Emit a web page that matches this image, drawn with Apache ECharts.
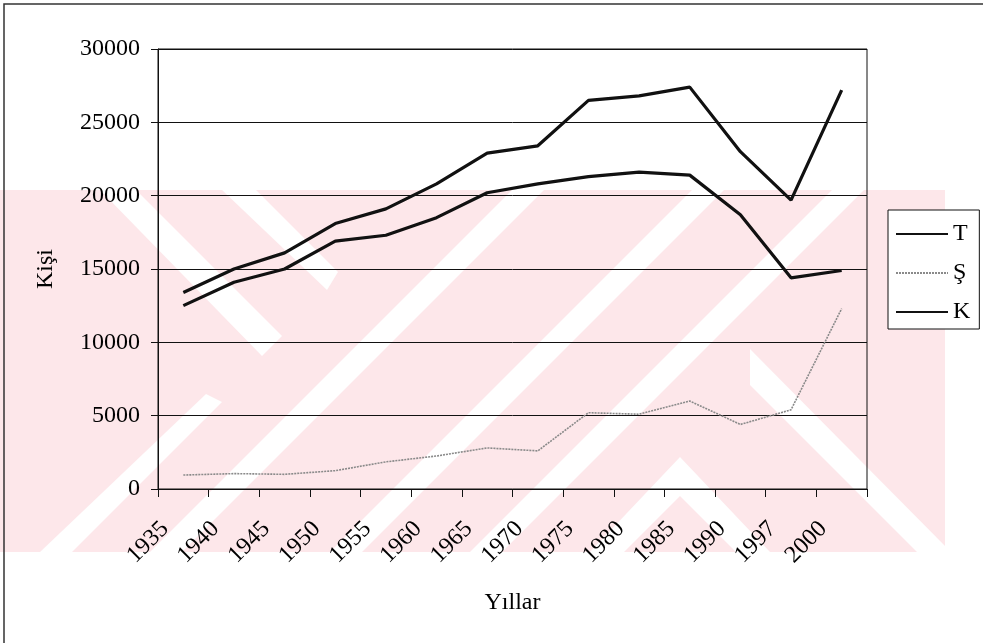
<!DOCTYPE html>
<html>
<head>
<meta charset="utf-8">
<script src="https://cdn.jsdelivr.net/npm/echarts@6/dist/echarts.min.js"></script>
<style>
  html, body { margin: 0; padding: 0; background: #fff; }
  #chart { width: 983px; height: 643px; }
</style>
</head>
<body>
<div id="chart"></div>
<script>
// Population by year (kişi)
const years = ['1935', '1940', '1945', '1950', '1955', '1960', '1965', '1970', '1975', '1980', '1985', '1990', '1997', '2000'];
const valuesT = [13400, 15000, 16100, 18100, 19100, 20800, 22900, 23400, 26500, 26800, 27400, 23000, 19700, 27200];
const valuesS = [950, 1050, 1000, 1250, 1850, 2250, 2800, 2600, 5200, 5100, 6000, 4400, 5400, 12300];
const valuesK = [12500, 14100, 15000, 16900, 17300, 18500, 20200, 20800, 21300, 21600, 21400, 18700, 14400, 14900];
const seriesNames = ['T', 'Ş', 'K'];

const serif = '"Liberation Serif", "Times New Roman", serif';
const pink = '#fde7ea';
const fontSize = 24;

// Background decoration: pale pink band with white diagonal stripes
const bandTop = 190, bandBottom = 552;
const decoration = [
  { type: 'rect', shape: { x: 0, y: bandTop, width: 945, height: bandBottom - bandTop }, style: { fill: pink } },
  // "\" stripes from the upper edge
  { type: 'polygon', shape: { points: [[100, 190], [136, 190], [282, 336], [262, 356]] }, style: { fill: '#fff' } },
  { type: 'polygon', shape: { points: [[222, 190], [256, 190], [338, 272], [327, 290]] }, style: { fill: '#fff' } },
  // "/" stripes from the lower edge
  { type: 'polygon', shape: { points: [[40, 552], [72, 552], [222, 402], [206, 394]] }, style: { fill: '#fff' } },
  { type: 'polygon', shape: { points: [[150, 552], [182, 552], [544, 190], [512, 190]] }, style: { fill: '#fff' } },
  { type: 'polygon', shape: { points: [[330, 552], [362, 552], [724, 190], [692, 190]] }, style: { fill: '#fff' } },
  { type: 'polygon', shape: { points: [[470, 552], [502, 552], [864, 190], [832, 190]] }, style: { fill: '#fff' } },
  // "^" chevrons on the right
  { type: 'polygon', shape: { points: [[590, 552], [624, 552], [680, 496], [736, 552], [770, 552], [680, 457]] }, style: { fill: '#fff' } },
  { type: 'polygon', shape: { points: [[750, 385], [917, 552], [951, 552], [750, 349]] }, style: { fill: '#fff' } },
  { type: 'polygon', shape: { points: [[945, 190], [983, 190], [983, 420]] }, style: { fill: '#fff' } }
].map(function (el) { el.z = -10; el.silent = true; return el; });

// Page frame
decoration.push({
  type: 'polyline',
  z: 100,
  silent: true,
  shape: { points: [[4, 643], [4, 4], [983, 4]] },
  style: { stroke: '#333', lineWidth: 1.5, fill: null }
});

const chart = echarts.init(document.getElementById('chart'), null, { renderer: 'canvas' });

chart.setOption({
  backgroundColor: '#fff',
  animation: false,
  textStyle: { fontFamily: serif, color: '#000' },
  graphic: { elements: decoration },
  grid: {
    left: 158, top: 49, right: 116, bottom: 154,
    show: true, borderColor: '#111', borderWidth: 1, backgroundColor: 'transparent'
  },
  legend: {
    data: seriesNames,
    orient: 'vertical',
    left: 888, top: 210,
    padding: [12, 9, 5, 7],
    itemGap: 15,
    itemWidth: 52, itemHeight: 20,
    itemStyle: { opacity: 0 },
    backgroundColor: '#fff',
    borderColor: '#111', borderWidth: 1,
    textStyle: { fontFamily: serif, fontSize: fontSize, color: '#000', lineHeight: 20 }
  },
  xAxis: {
    type: 'category',
    data: years,
    boundaryGap: true,
    name: 'Yıllar',
    nameLocation: 'middle',
    nameGap: 102,
    nameTextStyle: { fontFamily: serif, fontSize: fontSize, color: '#000' },
    axisLine: { show: true, lineStyle: { color: '#111', width: 1 } },
    axisTick: { show: true, interval: 0, length: 8, lineStyle: { color: '#111' } },
    axisLabel: {
      interval: 0, rotate: 45, margin: 18, padding: [0, 26, 0, 0],
      fontFamily: serif, fontSize: fontSize, color: '#000'
    },
    splitLine: { show: false }
  },
  yAxis: {
    type: 'value',
    min: 0, max: 30000, interval: 5000,
    name: 'Kişi',
    nameLocation: 'middle',
    nameGap: 100,
    nameRotate: 90,
    nameTextStyle: { fontFamily: serif, fontSize: fontSize, color: '#000' },
    axisLine: { show: true, lineStyle: { color: '#111', width: 1 } },
    axisTick: { show: true, length: 7, lineStyle: { color: '#111' } },
    axisLabel: {
      margin: 18, fontFamily: serif, fontSize: fontSize, color: '#000',
      formatter: function (v) { return String(v); }
    },
    splitLine: { show: true, lineStyle: { color: '#111', width: 1 } }
  },
  series: [
    {
      name: seriesNames[0], type: 'line', data: valuesT,
      symbol: 'none', lineStyle: { color: '#111', width: 3.2 }, itemStyle: { color: '#111' }, z: 5
    },
    {
      name: seriesNames[1], type: 'line', data: valuesS,
      symbol: 'none', lineStyle: { color: '#8a8a8a', width: 1.6, type: [2, 1] }, itemStyle: { color: '#8a8a8a' }, z: 4
    },
    {
      name: seriesNames[2], type: 'line', data: valuesK,
      symbol: 'none', lineStyle: { color: '#111', width: 3.2 }, itemStyle: { color: '#111' }, z: 5
    }
  ]
});
</script>
</body>
</html>
